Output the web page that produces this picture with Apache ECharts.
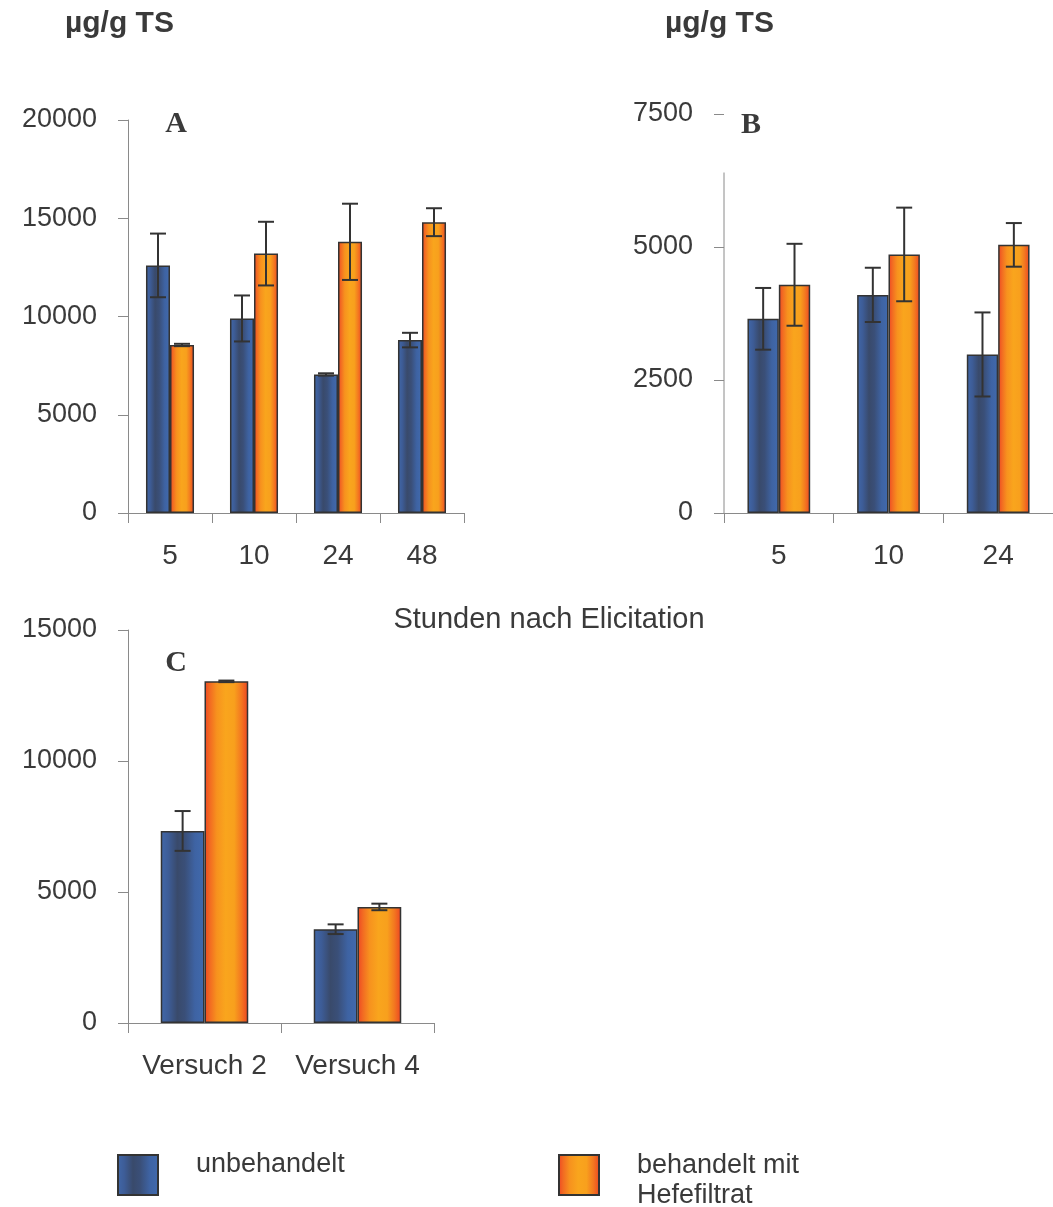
<!DOCTYPE html>
<html><head><meta charset="utf-8">
<script src="https://cdn.jsdelivr.net/npm/echarts@6/dist/echarts.min.js"></script>
<style>html,body{margin:0;padding:0;background:#fff}#c{width:1053px;height:1207px}</style>
</head><body><div id="c"></div>
<script>
// ---- data ----
const seriesNames = ['unbehandelt', 'behandelt mit Hefefiltrat'];

const catA = ['5', '10', '24', '48'];
const unbehA = [12600, 9900, 7050, 8800];
const unbehAErr = [1620, 1170, 60, 370];
const behA = [8550, 13200, 13800, 14800];
const behAErr = [60, 1620, 1940, 710];
const axisA = [0, 20000, 5000]; // min, max, interval

const catB = ['5', '10', '24'];
const unbehB = [3650, 4100, 2980];
const unbehBErr = [580, 510, 790];
const behB = [4290, 4860, 5040];
const behBErr = [770, 880, 410];
const axisB = [0, 7500, 2500];
const axisLineTopB = 6400; // value where the drawn axis line of panel B ends

const catC = ['Versuch 2', 'Versuch 4'];
const unbehC = [7330, 3580];
const unbehCErr = [760, 185];
const behC = [13040, 4430];
const behCErr = [30, 125];
const axisC = [0, 15000, 5000];

const unitLabel = 'µg/g TS';
const xTitle = 'Stunden nach Elicitation';
const panelLetters = ['A', 'B', 'C'];
const legendLabels = ['unbehandelt', 'behandelt mit\nHefefiltrat'];

// ---- styles ----
const TXT = '#3a3a3a';
const AX = '#8a8a8a';
const FONT = '"Liberation Sans", Arial, sans-serif';
const blueGrad = new echarts.graphic.LinearGradient(0, 0, 1, 0, [
  {offset: 0, color: '#4168aa'}, {offset: 0.18, color: '#3d5c96'},
  {offset: 0.38, color: '#394a6b'}, {offset: 0.55, color: '#3a4f78'},
  {offset: 0.78, color: '#3e63a3'}, {offset: 1, color: '#416aad'}]);
const orangeGrad = new echarts.graphic.LinearGradient(0, 0, 1, 0, [
  {offset: 0, color: '#ee4623'}, {offset: 0.12, color: '#f26a22'},
  {offset: 0.28, color: '#f7921e'}, {offset: 0.48, color: '#f9a51d'},
  {offset: 0.68, color: '#f8a01d'}, {offset: 0.84, color: '#f37820'}, {offset: 1, color: '#ec4322'}]);
const grads = [blueGrad, orangeGrad];

function errRender(sign) {
  return function (params, api) {
    const i = api.value(0), v = api.value(1), e = api.value(2);
    const band = api.size([1, 0])[0];
    const off = sign * band * 0.143;
    const top = api.coord([i, v + e]);
    const bot = api.coord([i, v - e]);
    const x = top[0] + off;
    const cap = 8;
    const st = {stroke: '#333', lineWidth: 2};
    return {type: 'group', children: [
      {type: 'line', shape: {x1: x, y1: top[1], x2: x, y2: bot[1]}, style: st},
      {type: 'line', shape: {x1: x - cap, y1: top[1], x2: x + cap, y2: top[1]}, style: st},
      {type: 'line', shape: {x1: x - cap, y1: bot[1], x2: x + cap, y2: bot[1]}, style: st}
    ]};
  };
}

const grids = [
  {left: 128, top: 120, width: 336, height: 393},
  {left: 724, top: 114, width: 333, height: 399},
  {left: 128, top: 630, width: 306, height: 393}
];
const cats = [catA, catB, catC];
const axes = [axisA, axisB, axisC];
const vals = [[unbehA, behA], [unbehB, behB], [unbehC, behC]];
const errs = [[unbehAErr, behAErr], [unbehBErr, behBErr], [unbehCErr, behCErr]];

const xAxes = cats.map((c, g) => ({
  type: 'category', gridIndex: g, data: c,
  axisLine: {show: true, lineStyle: {color: AX, width: 1}},
  axisTick: {show: true, length: 10, lineStyle: {color: AX}},
  axisLabel: {color: TXT, fontSize: 28, fontFamily: FONT, margin: 29, interval: 0}
}));
const yAxes = axes.map((a, g) => ({
  type: 'value', gridIndex: g, min: a[0], max: a[1], interval: a[2],
  axisLine: {show: g !== 1, lineStyle: {color: AX, width: 1}},
  axisTick: {show: true, length: 10, lineStyle: {color: AX}},
  splitLine: {show: false},
  axisLabel: {color: TXT, fontSize: 27, fontFamily: FONT, margin: 31, formatter: v => String(v)}
}));

const series = [];
for (let g = 0; g < 3; g++) {
  for (let s = 0; s < 2; s++) {
    series.push({
      type: 'bar', name: seriesNames[s], xAxisIndex: g, yAxisIndex: g,
      data: vals[g][s], barWidth: '28.6%', barGap: '0%',
      itemStyle: {color: grads[s], borderColor: '#333', borderWidth: 1.5},
      emphasis: {disabled: true}
    });
  }
  for (let s = 0; s < 2; s++) {
    series.push({
      type: 'custom', name: 'err' + g + s, xAxisIndex: g, yAxisIndex: g, z: 10,
      renderItem: errRender(s === 0 ? -1 : 1),
      encode: {x: 0, y: 1},
      data: vals[g][s].map((v, i) => [i, v, errs[g][s][i]])
    });
  }
}

const txt = (id, text, x, y, font, align, lh) => ({
  type: 'text', id, x, y,
  style: {text, font, fill: TXT, align: align || 'left', verticalAlign: 'middle', lineHeight: lh}
});
const serif = 'bold 30px "Liberation Serif", "Times New Roman", serif';
const graphic = [
  txt('u1', unitLabel, 65, 24, 'bold 30px ' + FONT),
  txt('u2', unitLabel, 665, 24, 'bold 30px ' + FONT),
  txt('la', panelLetters[0], 176, 124, serif, 'center'),
  txt('lb', panelLetters[1], 751, 125, serif, 'center'),
  txt('lc', panelLetters[2], 176, 663, serif, 'center'),
  txt('xt', xTitle, 549, 620, '29px ' + FONT, 'center'),
  txt('lg1', legendLabels[0], 196, 1165, '27px ' + FONT, 'left', 30),
  txt('lg2', legendLabels[1], 637, 1181, '27px ' + FONT, 'left', 30)
];

const chart = echarts.init(document.getElementById('c'), null, {renderer: 'canvas'});
chart.setOption({
  animation: false,
  backgroundColor: '#fff',
  grid: grids,
  xAxis: xAxes,
  yAxis: yAxes,
  series,
  graphic,
  legend: [
    {left: 117, top: 1154, padding: 0, itemWidth: 40, itemHeight: 40, icon: 'rect', selectedMode: false,
     data: [seriesNames[0]], formatter: () => ''},
    {left: 558, top: 1154, padding: 0, itemWidth: 40, itemHeight: 40, icon: 'rect', selectedMode: false,
     data: [seriesNames[1]], formatter: () => ''}
  ]
});

// partial axis line of panel B, positioned through the library's scales
const bx0 = chart.convertToPixel({xAxisIndex: 1}, 0);
const bx1 = chart.convertToPixel({xAxisIndex: 1}, 1);
const axX = bx0 - (bx1 - bx0) / 2;
const yb0 = chart.convertToPixel({yAxisIndex: 1}, 0);
const ybt = chart.convertToPixel({yAxisIndex: 1}, axisLineTopB);
chart.setOption({graphic: [{type: 'line', id: 'axB', shape: {x1: axX, y1: yb0, x2: axX, y2: ybt},
  style: {stroke: AX, lineWidth: 1}}]});
</script></body></html>
